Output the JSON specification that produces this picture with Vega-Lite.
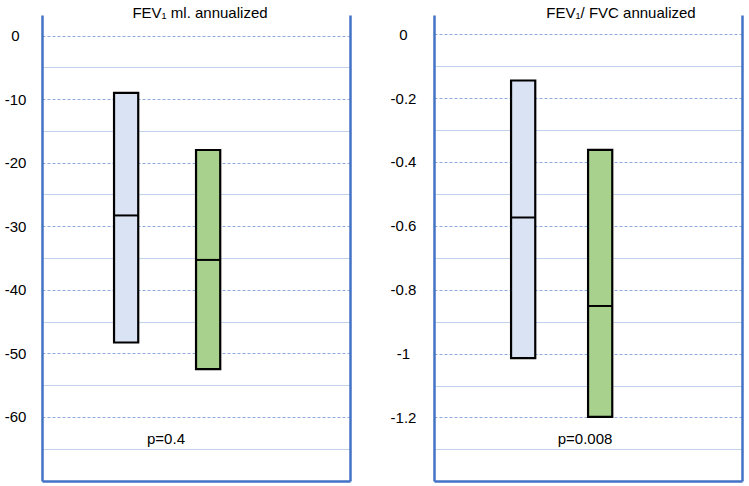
{
  "$schema": "https://vega.github.io/schema/vega-lite/v6.json",
  "background": "white",
  "padding": {"left": 4, "top": 6, "right": 5, "bottom": 2},
  "datasets": {
    "fev1": [
      {"group": "Group 1", "low": -48.3, "median": -28.3, "high": -9.0},
      {"group": "Group 2", "low": -52.5, "median": -35.3, "high": -18.0}
    ],
    "fev1_p": [{"label": "p=0.4", "y": -63.5}],
    "ratio": [
      {"group": "Group 1", "low": -1.014, "median": -0.574, "high": -0.145},
      {"group": "Group 2", "low": -1.198, "median": -0.851, "high": -0.362}
    ],
    "ratio_p": [{"label": "p=0.008", "y": -1.268}]
  },
  "config": {
    "font": "Liberation Sans",
    "view": {"stroke": null},
    "axis": {"labelFont": "Liberation Sans", "labelFontSize": 15, "labelColor": "black"}
  },
  "spacing": 84,
  "bounds": "flush",
  "hconcat": [
    {
      "width": 308,
      "height": 466,
      "title": {"text": "FEV₁ ml. annualized", "fontSize": 15, "fontWeight": "normal", "color": "black", "dx": 4, "offset": -18, "baseline": "alphabetic"},
      "resolve": {"axis": {"y": "independent"}},
      "layer": [
        {
          "data": {"name": "fev1"},
          "mark": {"type": "bar", "stroke": "black", "strokeWidth": 2.2, "width": 24.2},
          "encoding": {
            "x": {"field": "group", "type": "nominal", "scale": {"paddingInner": 0.244, "paddingOuter": 1, "align": 0.324},
                  "axis": {"labels": false, "ticks": false, "title": null, "grid": false, "domainColor": "#4472C4", "domainWidth": 2.5}},
            "y": {"field": "high", "type": "quantitative", "scale": {"domain": [-70.1, 3.25], "nice": false, "zero": false},
                  "axis": {"values": [0, -5, -10, -15, -20, -25, -30, -35, -40, -45, -50, -55, -60, -65], "format": "~g",
                           "labelExpr": "datum.value % 10 === 0 ? replace(datum.label, '−', '-') : ''",
                           "title": null, "ticks": false, "tickSize": 0, "labelAlign": "center", "labelPadding": 27, "labelOverlap": false,
                           "domainColor": "#4472C4", "domainWidth": 2.5, "grid": true,
                           "gridColor": {"condition": {"test": "datum.value % 10 === 0", "value": "#8FAADC"}, "value": "#C3D2EC"},
                           "gridDash": {"condition": {"test": "datum.value % 10 === 0", "value": [3, 2]}, "value": []}}},
            "y2": {"field": "low"},
            "color": {"field": "group", "type": "nominal", "scale": {"domain": ["Group 1", "Group 2"], "range": ["#DAE3F3", "#A9D18E"]}, "legend": null}
          }
        },
        {
          "data": {"name": "fev1"},
          "mark": {"type": "tick", "color": "black", "opacity": 1, "thickness": 2, "size": 24},
          "encoding": {
            "x": {"field": "group", "type": "nominal"},
            "y": {"field": "median", "type": "quantitative", "scale": {"domain": [-70.1, 3.25], "nice": false, "zero": false},
                  "axis": {"orient": "right", "labels": false, "ticks": false, "grid": false, "title": null, "domainColor": "#4472C4", "domainWidth": 2.5}}
          }
        },
        {
          "data": {"name": "fev1_p"},
          "mark": {"type": "text", "fontSize": 15, "dx": -30, "color": "black", "baseline": "middle"},
          "encoding": {
            "y": {"field": "y", "type": "quantitative", "scale": {"domain": [-70.1, 3.25], "nice": false, "zero": false}, "axis": null},
            "text": {"field": "label"}
          }
        }
      ]
    },
    {
      "width": 308,
      "height": 466,
      "title": {"text": "FEV₁/ FVC annualized", "fontSize": 15, "fontWeight": "normal", "color": "black", "dx": 33, "offset": -18, "baseline": "alphabetic"},
      "resolve": {"axis": {"y": "independent"}},
      "layer": [
        {
          "data": {"name": "ratio"},
          "mark": {"type": "bar", "stroke": "black", "strokeWidth": 2.2, "width": 24.2},
          "encoding": {
            "x": {"field": "group", "type": "nominal", "scale": {"paddingInner": 0, "paddingOuter": 1, "align": 0.329},
                  "axis": {"labels": false, "ticks": false, "title": null, "grid": false, "domainColor": "#4472C4", "domainWidth": 2.5}},
            "y": {"field": "high", "type": "quantitative", "scale": {"domain": [-1.399, 0.06], "nice": false, "zero": false},
                  "axis": {"values": [0, -0.1, -0.2, -0.3, -0.4, -0.5, -0.6, -0.7, -0.8, -0.9, -1, -1.1, -1.2, -1.3], "format": "~g",
                           "labelExpr": "abs(round(datum.value * 10)) % 2 === 0 ? replace(datum.label, '−', '-') : ''",
                           "title": null, "ticks": false, "tickSize": 0, "labelAlign": "center", "labelPadding": 31, "labelOverlap": false,
                           "domainColor": "#4472C4", "domainWidth": 2.5, "grid": true,
                           "gridColor": {"condition": {"test": "abs(round(datum.value * 10)) % 2 === 0", "value": "#8FAADC"}, "value": "#C3D2EC"},
                           "gridDash": {"condition": {"test": "abs(round(datum.value * 10)) % 2 === 0", "value": [3, 2]}, "value": []}}},
            "y2": {"field": "low"},
            "color": {"field": "group", "type": "nominal", "scale": {"domain": ["Group 1", "Group 2"], "range": ["#DAE3F3", "#A9D18E"]}, "legend": null}
          }
        },
        {
          "data": {"name": "ratio"},
          "mark": {"type": "tick", "color": "black", "opacity": 1, "thickness": 2, "size": 24},
          "encoding": {
            "x": {"field": "group", "type": "nominal"},
            "y": {"field": "median", "type": "quantitative", "scale": {"domain": [-1.399, 0.06], "nice": false, "zero": false},
                  "axis": {"orient": "right", "labels": false, "ticks": false, "grid": false, "title": null, "domainColor": "#4472C4", "domainWidth": 2.5}}
          }
        },
        {
          "data": {"name": "ratio_p"},
          "mark": {"type": "text", "fontSize": 15, "dx": -3, "color": "black", "baseline": "middle"},
          "encoding": {
            "y": {"field": "y", "type": "quantitative", "scale": {"domain": [-1.399, 0.06], "nice": false, "zero": false}, "axis": null},
            "text": {"field": "label"}
          }
        }
      ]
    }
  ]
}
